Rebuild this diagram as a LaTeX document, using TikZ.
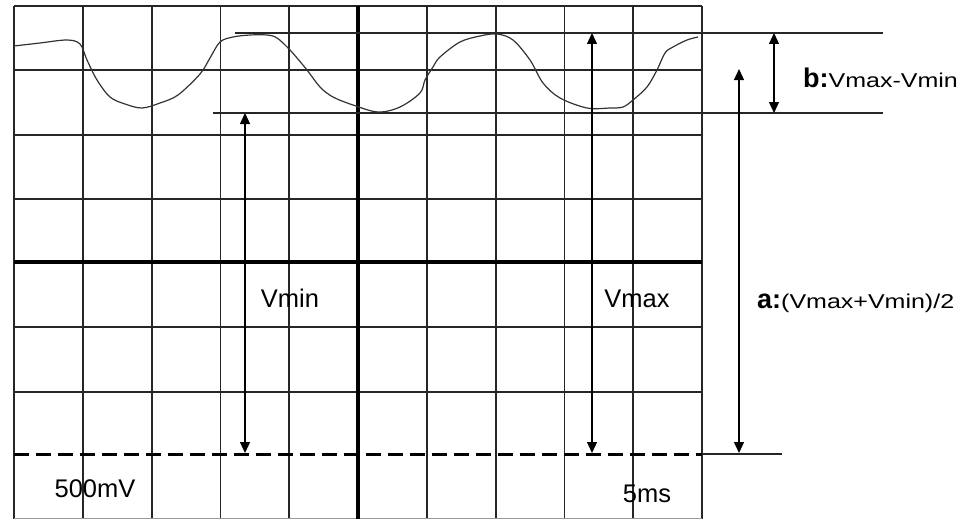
\documentclass[tikz,border=0pt]{standalone}
\usepackage{fontspec}
\setmainfont{Liberation Sans}
\usetikzlibrary{arrows.meta}
\begin{document}
\begin{tikzpicture}[x=1pt,y=-1pt,
  gridline/.style={line width=1.8pt,black!85},
  axisline/.style={line width=3.4pt,black},
  wave/.style={line width=1.2pt,black!80},
  levelline/.style={line width=1.3pt,black!85},
  dimarrow/.style={line width=1.2pt,{Triangle[length=11pt,width=10pt]}-{Triangle[length=11pt,width=10pt]}},
  basedash/.style={line width=3pt,dash pattern=on 15pt off 7pt},
  lbl/.style={font=\fontsize{25.5}{25.5}\selectfont,inner sep=0pt},
  rlbl/.style={inner sep=0pt,anchor=base west}]
\useasboundingbox (0,0) rectangle (965,519);
% grid
\foreach \x in {14,82.8,151.6,220.4,289.2,426.8,495.6,564.4,633.2,702}
  \draw[gridline] (\x,6) -- (\x,519);
\foreach \y in {6,70,135,199,327,392}
  \draw[gridline] (14,\y) -- (702,\y);
\draw[black!40,line width=1pt] (14,518) -- (702,518);
\draw[axisline] (358,6) -- (358,519);
\draw[axisline] (14,262) -- (702,262);
% baseline
\coordinate (bL) at (14,454);
\coordinate (bM) at (702,454);
\coordinate (bR) at (782,454);
\draw[basedash] (bL) -- (bM);
\draw[levelline] (bM) -- (bR);
% level lines
\coordinate (maxL) at (235,33);
\coordinate (maxR) at (883,33);
\coordinate (minL) at (213,113);
\coordinate (minR) at (883,113);
\draw[levelline] (maxL) -- (maxR);
\draw[levelline] (minL) -- (minR);
% waveform
\draw[wave] plot[smooth,tension=0.55] coordinates {
 (14,46) (40,43) (67,40) (80,44) (87,60) (97,80) (110,97) (125,104) (142,108)
 (160,103) (178,95) (200,74) (210,58) (220,42) (233,37) (250,35) (267,35) (277,38)
 (290,50) (307,70) (320,87) (333,97) (353,105) (378,112) (400,107) (420,93)
 (425,80) (433,67) (440,57) (460,42) (480,36) (497,34) (513,40) (530,60)
 (543,83) (560,98) (587,108) (610,108) (623,107) (633,100) (647,87) (657,70)
 (665,53) (673,47) (687,40) (698,37)};
% arrows
\coordinate (vminT) at (245,113);
\coordinate (vminB) at (245,453);
\coordinate (vmaxT) at (592,33);
\coordinate (vmaxB) at (592,453);
\coordinate (aT) at (739,69);
\coordinate (aB) at (739,453);
\coordinate (bT) at (774,33);
\coordinate (bB) at (774,113);
\draw[dimarrow] (vminT) -- (vminB);
\draw[dimarrow] (vmaxT) -- (vmaxB);
\draw[dimarrow] (aT) -- (aB);
\draw[dimarrow] (bT) -- (bB);
% labels
\node[lbl] (vmin) at (290,298) {Vmin};
\node[lbl] (vmax) at (637,299) {Vmax};
\node[lbl] (mv) at (95,489) {500mV};
\node[lbl] (ms) at (647,494) {5ms};
\node[rlbl] (alab) at (757,308) {{\fontsize{27}{27}\selectfont\bfseries a:}\scalebox{1.25}[1]{\fontsize{20}{20}\selectfont(Vmax+Vmin)/2}};
\node[rlbl] (blab) at (803,87) {{\fontsize{27}{27}\selectfont\bfseries b:}\scalebox{1.25}[1]{\fontsize{20}{20}\selectfont Vmax-Vmin}};
\end{tikzpicture}
\end{document}
